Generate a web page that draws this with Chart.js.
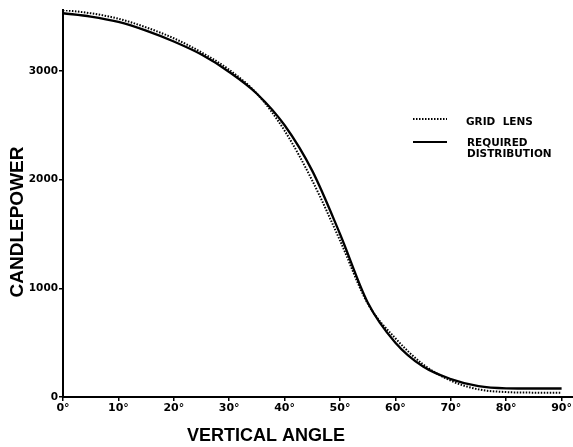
<!DOCTYPE html>
<html>
<head>
<meta charset="utf-8">
<script src="https://cdn.jsdelivr.net/npm/chart.js@4/dist/chart.umd.min.js"></script>
<style>
  html, body { margin: 0; padding: 0; background: #fff; }
  #wrap { width: 573px; height: 447px; }
</style>
</head>
<body>
<div id="wrap"><canvas id="chart" width="573" height="447"></canvas></div>
<script>
// vertical angle in degrees
var angles = [0, 5, 10, 15, 20, 25, 30, 35, 40, 45, 50, 55, 60, 65, 70, 75, 80, 85, 90];
// candlepower readings
var requiredDist = [3530, 3500, 3450, 3370, 3270, 3150, 2990, 2790, 2500, 2080, 1500, 870, 500, 280, 165, 100, 80, 78, 78];
var gridLens = [3560, 3530, 3480, 3400, 3300, 3170, 3010, 2790, 2450, 1990, 1440, 860, 540, 300, 150, 70, 45, 40, 38];
var yTicks = [0, 1000, 2000, 3000];
var xTicks = [0, 10, 20, 30, 40, 50, 60, 70, 80, 90];

function pts(vals) {
    return angles.map(function(a, i) { return {x: a, y: vals[i]}; });
}

// titles and the little key are drawn by hand, like on the original plate
var extras = {
    id: 'extras',
    afterDraw: function(chart) {
        var ctx = chart.ctx;
        ctx.save();
        ctx.fillStyle = '#000';
        ctx.strokeStyle = '#000';
        ctx.textBaseline = 'middle';

        ctx.font = 'bold 18px "Liberation Sans"';
        ctx.textAlign = 'center';
        ctx.fillText('VERTICAL ANGLE', 266, 436);

        ctx.save();
        ctx.translate(18, 222);
        ctx.rotate(-Math.PI / 2);
        ctx.font = 'bold 19px "Liberation Sans"';
        ctx.fillText('CANDLEPOWER', 0, 0);
        ctx.restore();

        // key
        ctx.lineWidth = 2;
        ctx.setLineDash([1.5, 1.5]);
        ctx.beginPath(); ctx.moveTo(413, 119); ctx.lineTo(447, 119); ctx.stroke();
        ctx.setLineDash([]);
        ctx.lineWidth = 2.2;
        ctx.beginPath(); ctx.moveTo(413, 142); ctx.lineTo(447, 142); ctx.stroke();

        ctx.font = 'bold 10.5px "DejaVu Sans"';
        ctx.textAlign = 'left';
        ctx.fillText('GRID  LENS', 466, 122);
        ctx.fillText('REQUIRED', 467, 143);
        ctx.fillText('DISTRIBUTION', 467, 154);
        ctx.restore();
    }
};

var ctx = document.getElementById('chart').getContext('2d');
var chart = new Chart(ctx, {
    type: 'line',
    data: {
        datasets: [{
            label: 'GRID LENS',
            data: pts(gridLens),
            borderColor: '#000',
            borderWidth: 2,
            borderDash: [1.5, 1.5],
            pointRadius: 0,
            cubicInterpolationMode: 'monotone',
            fill: false
        }, {
            label: 'REQUIRED DISTRIBUTION',
            data: pts(requiredDist),
            borderColor: '#000',
            borderWidth: 2.3,
            pointRadius: 0,
            cubicInterpolationMode: 'monotone',
            fill: false
        }]
    },
    options: {
        responsive: false,
        animation: false,
        layout: { padding: { top: 10, right: 0, left: 0, bottom: 0 } },
        plugins: {
            legend: { display: false },
            tooltip: { enabled: false }
        },
        scales: {
            x: {
                type: 'linear',
                min: 0,
                max: 92,
                afterFit: function(s) { s.height = 50; },
                afterBuildTicks: function(s) {
                    s.ticks = xTicks.map(function(v) { return {value: v}; });
                },
                border: { display: true, color: '#000', width: 2 },
                grid: { drawOnChartArea: false, drawTicks: true, tickLength: 4, color: '#000', lineWidth: 1.5 },
                ticks: {
                    color: '#000',
                    padding: 1,
                    maxRotation: 0,
                    font: { family: '"DejaVu Sans"', weight: 'bold', size: 11 },
                    callback: function(v) { return v + '°'; }
                }
            },
            y: {
                type: 'linear',
                min: 0,
                max: 3560,
                afterFit: function(s) { s.width = 63; },
                afterBuildTicks: function(s) {
                    s.ticks = yTicks.map(function(v) { return {value: v}; });
                },
                border: { display: true, color: '#000', width: 2 },
                grid: { drawOnChartArea: false, drawTicks: true, tickLength: 4, color: '#000', lineWidth: 1.5 },
                ticks: {
                    color: '#000',
                    padding: 1,
                    font: { family: '"DejaVu Sans"', weight: 'bold', size: 10.5 },
                    callback: function(v) { return String(v); }
                }
            }
        }
    },
    plugins: [extras]
});
</script>
</body>
</html>
